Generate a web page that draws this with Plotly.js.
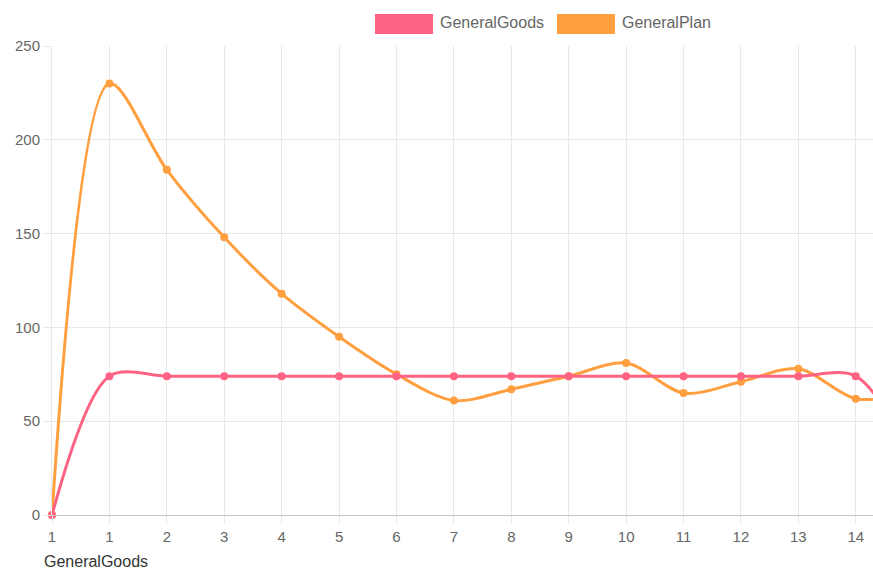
<!DOCTYPE html>
<html>
<head>
<meta charset="utf-8">
<script src="https://cdn.plot.ly/plotly-3.0.1.min.js"></script>
<style>html,body{margin:0;padding:0;background:#fff;}#chart{width:873px;height:569px;}</style>
</head>
<body>
<div id="chart"></div>
<script>
const tickLabels = ["1","1","2","3","4","5","6","7","8","9","10","11","12","13","14","15"];
const generalGoods = [0, 74, 74, 74, 74, 74, 74, 74, 74, 74, 74, 74, 74, 74, 74, 30];
const generalPlan = [0, 230, 184, 148, 118, 95, 75, 61, 67, 74, 81, 65, 71, 78, 62, 65];
const seriesNames = ["GeneralGoods", "GeneralPlan"];
const xTitle = "GeneralGoods";

const pink = "rgb(255,99,132)";
const orange = "rgb(255,159,64)";
const xIdx = tickLabels.map((_, i) => i);

const plan = {
  x: xIdx, y: generalPlan, name: seriesNames[1], type: "scatter", mode: "lines+markers",
  line: {color: orange, width: 3, shape: "spline", smoothing: 0.9},
  marker: {color: orange, size: 8}, cliponaxis: false, showlegend: false
};
const goods = {
  x: xIdx, y: generalGoods, name: seriesNames[0], type: "scatter", mode: "lines+markers",
  line: {color: pink, width: 3, shape: "spline", smoothing: 0.9},
  marker: {color: pink, size: 8}, cliponaxis: false, showlegend: false
};

const family = "Liberation Sans, Arial, sans-serif";
const tickFont = {family: family, size: 15, color: "#666"};
const legFont = {family: family, size: 16, color: "#666"};
const layout = {
  width: 873, height: 569,
  margin: {l: 52, r: 0, t: 46, b: 54},
  paper_bgcolor: "#fff", plot_bgcolor: "#fff",
  font: tickFont,
  showlegend: false,
  xaxis: {
    range: [0, 14.3], tickvals: xIdx, ticktext: tickLabels,
    showgrid: true, gridcolor: "#e8e8e8", gridwidth: 1,
    zeroline: false, showline: true, linecolor: "#c8c8c8", linewidth: 1,
    ticks: "outside", ticklen: 8, tickcolor: "#e8e8e8",
    tickfont: tickFont, fixedrange: true
  },
  yaxis: {
    range: [0, 250], tickvals: [0, 50, 100, 150, 200, 250],
    showgrid: true, gridcolor: "#e8e8e8", gridwidth: 1,
    zeroline: false, showline: true, linecolor: "#e8e8e8", linewidth: 1,
    ticks: "outside", ticklen: 8, tickcolor: "#e8e8e8",
    tickfont: tickFont, fixedrange: true
  },
  shapes: [
    {type: "rect", xref: "paper", yref: "paper",
     x0: (375-52)/821, x1: (433-52)/821, y0: (515-34)/469, y1: (515-14)/469,
     fillcolor: pink, line: {width: 0}},
    {type: "rect", xref: "paper", yref: "paper",
     x0: (557-52)/821, x1: (615-52)/821, y0: (515-34)/469, y1: (515-14)/469,
     fillcolor: orange, line: {width: 0}}
  ],
  annotations: [
    {text: seriesNames[0], xref: "paper", yref: "paper", x: (438-52)/821, y: (515-23)/469,
     xanchor: "left", yanchor: "middle", showarrow: false, font: legFont},
    {text: seriesNames[1], xref: "paper", yref: "paper", x: (620-52)/821, y: (515-23)/469,
     xanchor: "left", yanchor: "middle", showarrow: false, font: legFont},
    {text: xTitle, xref: "paper", yref: "paper", x: (42-52)/821, y: (515-561)/469,
     xanchor: "left", yanchor: "middle", showarrow: false,
     font: {family: family, size: 16, color: "#333"}}
  ]
};

Plotly.newPlot("chart", [plan, goods], layout, {displayModeBar: false, staticPlot: true});
</script>
</body>
</html>
